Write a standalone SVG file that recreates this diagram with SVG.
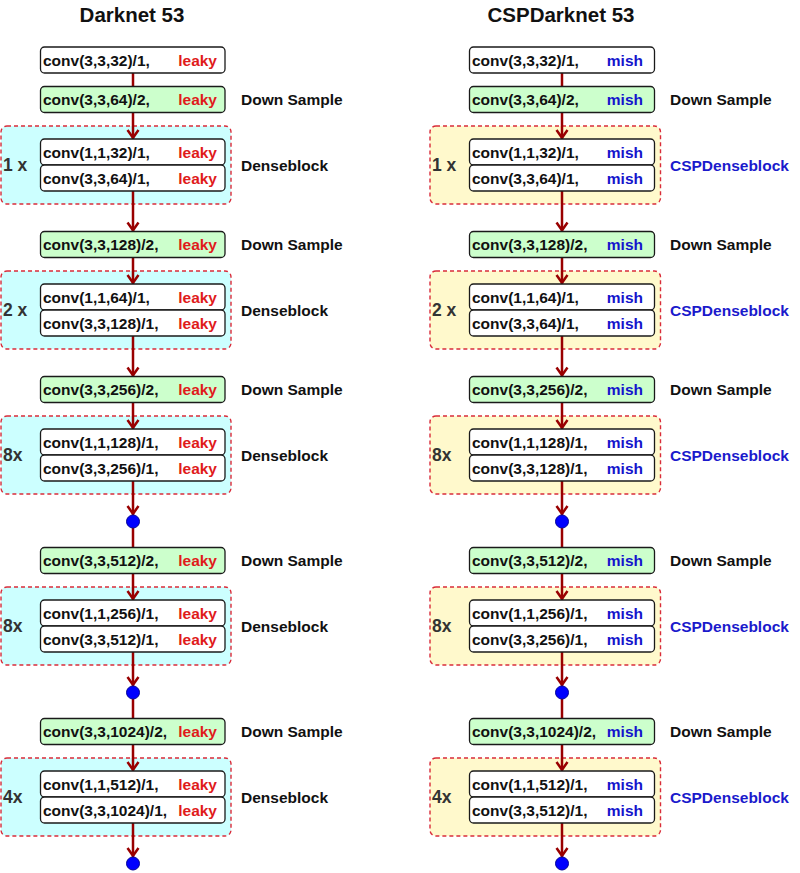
<svg xmlns="http://www.w3.org/2000/svg" width="800" height="873" viewBox="0 0 800 873">
<defs>
<style>
text{font-family:"Liberation Sans",Arial,sans-serif;font-weight:bold}
.t{font-size:15.5px;fill:#111}
.title{font-size:20.5px;fill:#111;text-anchor:middle}
.lk{font-size:15.5px;fill:#E01B1B;text-anchor:end}
.mi{font-size:15.5px;fill:#1414CC;text-anchor:end}
.lab{font-size:15.5px;fill:#111}
.csp{font-size:15.5px;fill:#1A1ACC}
.cnt{font-size:17.5px;fill:#333}
.box{fill:#FFFFFF;stroke:#1a1a1a;stroke-width:1.3}
.ds{fill:#CCFFCC;stroke:#1a1a1a;stroke-width:1.3}
.cy{fill:#CCFFFF;stroke:#D92C3A;stroke-width:1.4;stroke-dasharray:4 3}
.ye{fill:#FFF9CC;stroke:#D92C3A;stroke-width:1.4;stroke-dasharray:4 3}
.ln{stroke:#990000;stroke-width:2.5;fill:none}
.ar{marker-end:url(#arr)}
.dot{fill:#0000FF;stroke:#000099;stroke-width:1}
</style>
<marker id="arr" markerUnits="userSpaceOnUse" markerWidth="14" markerHeight="14" viewBox="-12 -7 14 14" refX="0" refY="0" orient="auto">
<path d="M-9,-5.5 L-1.2,0 L-9,5.5" fill="none" stroke="#990000" stroke-width="2.5"/>
</marker>
</defs>
<rect width="800" height="873" fill="#FFFFFF"/>

<text class="title" x="132" y="21.5">Darknet 53</text>
<text class="title" x="561" y="21.5">CSPDarknet 53</text>

<!-- containers left -->
<g id="L-block1"><rect class="cy" x="1" y="126" width="230" height="78" rx="6"/><text class="cnt" x="3" y="171">1 x</text><text class="lab" x="241" y="170.5">Denseblock</text></g>
<g id="L-block2"><rect class="cy" x="1" y="271" width="230" height="78" rx="6"/><text class="cnt" x="3" y="316">2 x</text><text class="lab" x="241" y="315.5">Denseblock</text></g>
<g id="L-block3"><rect class="cy" x="1" y="416" width="230" height="78" rx="6"/><text class="cnt" x="3" y="461">8x</text><text class="lab" x="241" y="460.5">Denseblock</text></g>
<g id="L-block4"><rect class="cy" x="1" y="587" width="230" height="78" rx="6"/><text class="cnt" x="3" y="632">8x</text><text class="lab" x="241" y="631.5">Denseblock</text></g>
<g id="L-block5"><rect class="cy" x="1" y="758" width="230" height="78" rx="6"/><text class="cnt" x="3" y="803">4x</text><text class="lab" x="241" y="802.5">Denseblock</text></g>

<!-- containers right -->
<g id="R-block1"><rect class="ye" x="430" y="126" width="230.5" height="78" rx="6"/><text class="cnt" x="432" y="171">1 x</text><text class="csp" x="670" y="170.5">CSPDenseblock</text></g>
<g id="R-block2"><rect class="ye" x="430" y="271" width="230.5" height="78" rx="6"/><text class="cnt" x="432" y="316">2 x</text><text class="csp" x="670" y="315.5">CSPDenseblock</text></g>
<g id="R-block3"><rect class="ye" x="430" y="416" width="230.5" height="78" rx="6"/><text class="cnt" x="432" y="461">8x</text><text class="csp" x="670" y="460.5">CSPDenseblock</text></g>
<g id="R-block4"><rect class="ye" x="430" y="587" width="230.5" height="78" rx="6"/><text class="cnt" x="432" y="632">8x</text><text class="csp" x="670" y="631.5">CSPDenseblock</text></g>
<g id="R-block5"><rect class="ye" x="430" y="758" width="230.5" height="78" rx="6"/><text class="cnt" x="432" y="803">4x</text><text class="csp" x="670" y="802.5">CSPDenseblock</text></g>

<!-- connectors -->
<g id="connectors">
<line class="ln" x1="133" y1="73" x2="133" y2="86.5"/>
<line class="ln ar" x1="133" y1="112.5" x2="133" y2="139"/>
<line class="ln ar" x1="133" y1="191" x2="133" y2="231.5"/>
<line class="ln ar" x1="133" y1="257.5" x2="133" y2="284"/>
<line class="ln ar" x1="133" y1="336" x2="133" y2="376.5"/>
<line class="ln ar" x1="133" y1="402.5" x2="133" y2="429"/>
<line class="ln ar" x1="133" y1="481" x2="133" y2="515"/>
<line class="ln" x1="133" y1="528" x2="133" y2="547.5"/>
<line class="ln ar" x1="133" y1="573.5" x2="133" y2="600"/>
<line class="ln ar" x1="133" y1="652" x2="133" y2="686"/>
<line class="ln" x1="133" y1="699" x2="133" y2="718.5"/>
<line class="ln ar" x1="133" y1="744.5" x2="133" y2="771"/>
<line class="ln ar" x1="133" y1="823" x2="133" y2="857"/>

<line class="ln" x1="562" y1="73" x2="562" y2="86.5"/>
<line class="ln ar" x1="562" y1="112.5" x2="562" y2="139"/>
<line class="ln ar" x1="562" y1="191" x2="562" y2="231.5"/>
<line class="ln ar" x1="562" y1="257.5" x2="562" y2="284"/>
<line class="ln ar" x1="562" y1="336" x2="562" y2="376.5"/>
<line class="ln ar" x1="562" y1="402.5" x2="562" y2="429"/>
<line class="ln ar" x1="562" y1="481" x2="562" y2="515"/>
<line class="ln" x1="562" y1="528" x2="562" y2="547.5"/>
<line class="ln ar" x1="562" y1="573.5" x2="562" y2="600"/>
<line class="ln ar" x1="562" y1="652" x2="562" y2="686"/>
<line class="ln" x1="562" y1="699" x2="562" y2="718.5"/>
<line class="ln ar" x1="562" y1="744.5" x2="562" y2="771"/>
<line class="ln ar" x1="562" y1="823" x2="562" y2="857"/>
</g>

<!-- left column nodes -->
<g id="L-conv0"><rect class="box" x="40.5" y="47" width="184.5" height="26" rx="4"/><text class="t" x="43" y="65.5">conv(3,3,32)/1,</text><text class="lk" x="217" y="65.5">leaky</text></g>
<g id="L-ds1"><rect class="ds" x="40.5" y="86.5" width="184.5" height="26" rx="4"/><text class="t" x="43" y="105">conv(3,3,64)/2,</text><text class="lk" x="217" y="105">leaky</text><text class="lab" x="241" y="105">Down Sample</text></g>
<g id="L-c1a"><rect class="box" x="40.5" y="139" width="184.5" height="26" rx="4"/><text class="t" x="43" y="157.5">conv(1,1,32)/1,</text><text class="lk" x="217" y="157.5">leaky</text></g>
<g id="L-c1b"><rect class="box" x="40.5" y="165" width="184.5" height="26" rx="4"/><text class="t" x="43" y="183.5">conv(3,3,64)/1,</text><text class="lk" x="217" y="183.5">leaky</text></g>

<g id="L-ds2"><rect class="ds" x="40.5" y="231.5" width="184.5" height="26" rx="4"/><text class="t" x="43" y="250">conv(3,3,128)/2,</text><text class="lk" x="217" y="250">leaky</text><text class="lab" x="241" y="250">Down Sample</text></g>
<g id="L-c2a"><rect class="box" x="40.5" y="284" width="184.5" height="26" rx="4"/><text class="t" x="43" y="302.5">conv(1,1,64)/1,</text><text class="lk" x="217" y="302.5">leaky</text></g>
<g id="L-c2b"><rect class="box" x="40.5" y="310" width="184.5" height="26" rx="4"/><text class="t" x="43" y="328.5">conv(3,3,128)/1,</text><text class="lk" x="217" y="328.5">leaky</text></g>

<g id="L-ds3"><rect class="ds" x="40.5" y="376.5" width="184.5" height="26" rx="4"/><text class="t" x="43" y="395">conv(3,3,256)/2,</text><text class="lk" x="217" y="395">leaky</text><text class="lab" x="241" y="395">Down Sample</text></g>
<g id="L-c3a"><rect class="box" x="40.5" y="429" width="184.5" height="26" rx="4"/><text class="t" x="43" y="447.5">conv(1,1,128)/1,</text><text class="lk" x="217" y="447.5">leaky</text></g>
<g id="L-c3b"><rect class="box" x="40.5" y="455" width="184.5" height="26" rx="4"/><text class="t" x="43" y="473.5">conv(3,3,256)/1,</text><text class="lk" x="217" y="473.5">leaky</text></g>
<g id="L-dot1"><circle class="dot" cx="133" cy="521.5" r="6.5"/></g>

<g id="L-ds4"><rect class="ds" x="40.5" y="547.5" width="184.5" height="26" rx="4"/><text class="t" x="43" y="566">conv(3,3,512)/2,</text><text class="lk" x="217" y="566">leaky</text><text class="lab" x="241" y="566">Down Sample</text></g>
<g id="L-c4a"><rect class="box" x="40.5" y="600" width="184.5" height="26" rx="4"/><text class="t" x="43" y="618.5">conv(1,1,256)/1,</text><text class="lk" x="217" y="618.5">leaky</text></g>
<g id="L-c4b"><rect class="box" x="40.5" y="626" width="184.5" height="26" rx="4"/><text class="t" x="43" y="644.5">conv(3,3,512)/1,</text><text class="lk" x="217" y="644.5">leaky</text></g>
<g id="L-dot2"><circle class="dot" cx="133" cy="692.5" r="6.5"/></g>

<g id="L-ds5"><rect class="ds" x="40.5" y="718.5" width="184.5" height="26" rx="4"/><text class="t" x="43" y="737">conv(3,3,1024)/2,</text><text class="lk" x="217" y="737">leaky</text><text class="lab" x="241" y="737">Down Sample</text></g>
<g id="L-c5a"><rect class="box" x="40.5" y="771" width="184.5" height="26" rx="4"/><text class="t" x="43" y="789.5">conv(1,1,512)/1,</text><text class="lk" x="217" y="789.5">leaky</text></g>
<g id="L-c5b"><rect class="box" x="40.5" y="797" width="184.5" height="26" rx="4"/><text class="t" x="43" y="815.5">conv(3,3,1024)/1,</text><text class="lk" x="217" y="815.5">leaky</text></g>
<g id="L-dot3"><circle class="dot" cx="133" cy="863.5" r="6.5"/></g>

<!-- right column nodes -->
<g id="R-conv0"><rect class="box" x="469.5" y="47" width="185" height="26" rx="4"/><text class="t" x="472" y="65.5">conv(3,3,32)/1,</text><text class="mi" x="643" y="65.5">mish</text></g>
<g id="R-ds1"><rect class="ds" x="469.5" y="86.5" width="185" height="26" rx="4"/><text class="t" x="472" y="105">conv(3,3,64)/2,</text><text class="mi" x="643" y="105">mish</text><text class="lab" x="670" y="105">Down Sample</text></g>
<g id="R-c1a"><rect class="box" x="469.5" y="139" width="185" height="26" rx="4"/><text class="t" x="472" y="157.5">conv(1,1,32)/1,</text><text class="mi" x="643" y="157.5">mish</text></g>
<g id="R-c1b"><rect class="box" x="469.5" y="165" width="185" height="26" rx="4"/><text class="t" x="472" y="183.5">conv(3,3,64)/1,</text><text class="mi" x="643" y="183.5">mish</text></g>

<g id="R-ds2"><rect class="ds" x="469.5" y="231.5" width="185" height="26" rx="4"/><text class="t" x="472" y="250">conv(3,3,128)/2,</text><text class="mi" x="643" y="250">mish</text><text class="lab" x="670" y="250">Down Sample</text></g>
<g id="R-c2a"><rect class="box" x="469.5" y="284" width="185" height="26" rx="4"/><text class="t" x="472" y="302.5">conv(1,1,64)/1,</text><text class="mi" x="643" y="302.5">mish</text></g>
<g id="R-c2b"><rect class="box" x="469.5" y="310" width="185" height="26" rx="4"/><text class="t" x="472" y="328.5">conv(3,3,64)/1,</text><text class="mi" x="643" y="328.5">mish</text></g>

<g id="R-ds3"><rect class="ds" x="469.5" y="376.5" width="185" height="26" rx="4"/><text class="t" x="472" y="395">conv(3,3,256)/2,</text><text class="mi" x="643" y="395">mish</text><text class="lab" x="670" y="395">Down Sample</text></g>
<g id="R-c3a"><rect class="box" x="469.5" y="429" width="185" height="26" rx="4"/><text class="t" x="472" y="447.5">conv(1,1,128)/1,</text><text class="mi" x="643" y="447.5">mish</text></g>
<g id="R-c3b"><rect class="box" x="469.5" y="455" width="185" height="26" rx="4"/><text class="t" x="472" y="473.5">conv(3,3,128)/1,</text><text class="mi" x="643" y="473.5">mish</text></g>
<g id="R-dot1"><circle class="dot" cx="562" cy="521.5" r="6.5"/></g>

<g id="R-ds4"><rect class="ds" x="469.5" y="547.5" width="185" height="26" rx="4"/><text class="t" x="472" y="566">conv(3,3,512)/2,</text><text class="mi" x="643" y="566">mish</text><text class="lab" x="670" y="566">Down Sample</text></g>
<g id="R-c4a"><rect class="box" x="469.5" y="600" width="185" height="26" rx="4"/><text class="t" x="472" y="618.5">conv(1,1,256)/1,</text><text class="mi" x="643" y="618.5">mish</text></g>
<g id="R-c4b"><rect class="box" x="469.5" y="626" width="185" height="26" rx="4"/><text class="t" x="472" y="644.5">conv(3,3,256)/1,</text><text class="mi" x="643" y="644.5">mish</text></g>
<g id="R-dot2"><circle class="dot" cx="562" cy="692.5" r="6.5"/></g>

<g id="R-ds5"><rect class="ds" x="469.5" y="718.5" width="185" height="26" rx="4"/><text class="t" x="472" y="737">conv(3,3,1024)/2,</text><text class="mi" x="643" y="737">mish</text><text class="lab" x="670" y="737">Down Sample</text></g>
<g id="R-c5a"><rect class="box" x="469.5" y="771" width="185" height="26" rx="4"/><text class="t" x="472" y="789.5">conv(1,1,512)/1,</text><text class="mi" x="643" y="789.5">mish</text></g>
<g id="R-c5b"><rect class="box" x="469.5" y="797" width="185" height="26" rx="4"/><text class="t" x="472" y="815.5">conv(3,3,512)/1,</text><text class="mi" x="643" y="815.5">mish</text></g>
<g id="R-dot3"><circle class="dot" cx="562" cy="863.5" r="6.5"/></g>
</svg>
